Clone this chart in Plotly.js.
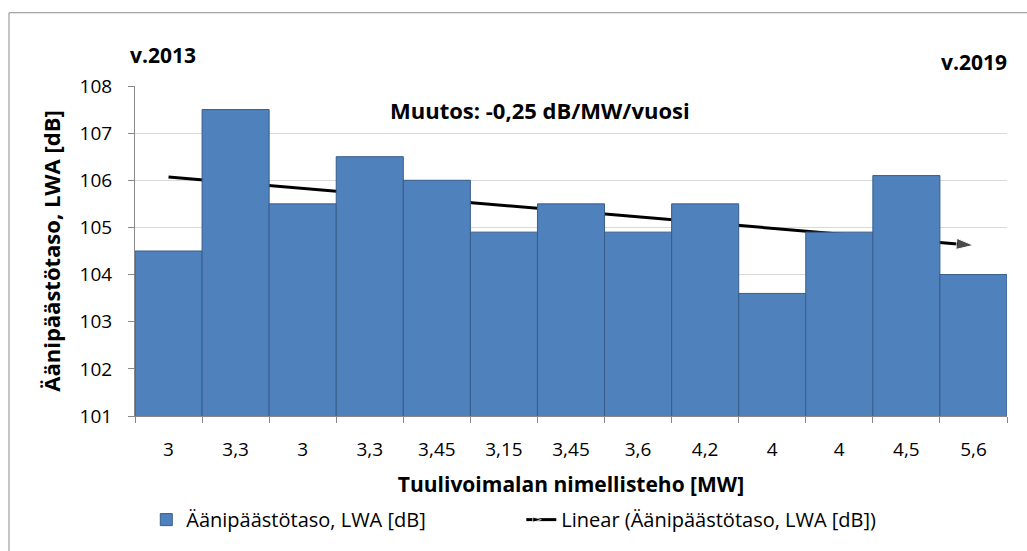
<!DOCTYPE html>
<html>
<head>
<meta charset="utf-8">
<script src="https://cdn.plot.ly/plotly-3.0.1.min.js"></script>
<style>html,body{margin:0;padding:0;background:#fff;}#chart{width:1027px;height:551px;}</style>
</head>
<body>
<div id="chart"></div>
<script>
const categories = ["3","3,3","3","3,3","3,45","3,15","3,45","3,6","4,2","4","4","4,5","5,6"];
const values = [104.5,107.5,105.5,106.5,106.0,104.9,105.5,104.9,105.5,103.6,104.9,106.1,104.0];
const trendX = [0, 12];
const trendY = [106.07, 104.62];
const seriesName = "Äänipäästötaso, LWA [dB]";
const trendName = "Linear (Äänipäästötaso, LWA [dB])";

const idx = categories.map((c, i) => i);
const bounds = categories.map((c, i) => i - 0.5).concat([categories.length - 0.5]);
const FONT = "'Open Sans', sans-serif";

const traces = [
  {
    type: "bar", x: idx, y: values, name: seriesName, xaxis: "x2",
    marker: {color: "#4F81BD", line: {color: "#385D8A", width: 1}},
    hoverinfo: "y"
  },
  {
    type: "scatter", mode: "lines+markers", x: trendX, y: trendY, name: trendName,
    line: {color: "#000", width: 3},
    marker: {symbol: "arrow", angleref: "previous", size: [0, 18], color: "#000"}
  }
];

const layout = {
  width: 1027, height: 551,
  margin: {l: 135, r: 20, t: 86, b: 132},
  paper_bgcolor: "#fff", plot_bgcolor: "#fff",
  font: {family: FONT, size: 19, color: "#000"},
  bargap: 0,
  showlegend: true,
  legend: {orientation: "h", x: 0.443, xanchor: "center", y: -0.314, yanchor: "middle",
           font: {family: FONT, size: 20, color: "#000"}, itemwidth: 30, tracegroupgap: 0,
           entrywidth: 330},
  xaxis: {
    range: [-0.5, 12.5], tickmode: "array", tickvals: bounds, showticklabels: false,
    ticks: "outside", ticklen: 6, tickcolor: "#888", showline: true, linecolor: "#888", linewidth: 1,
    showgrid: false, zeroline: false, fixedrange: true
  },
  xaxis2: {
    overlaying: "x", side: "bottom", range: [-0.5, 12.5], tickmode: "array",
    tickvals: idx, ticktext: categories, ticks: "", showline: false, showgrid: false, zeroline: false,
    tickfont: {size: 19, color: "#000"}, ticklabelstandoff: 20,
    title: {text: "<b>Tuulivoimalan nimellisteho [MW]</b>", font: {size: 21, color: "#000"}, standoff: 16}
  },
  yaxis: {
    range: [101, 108], dtick: 1, tick0: 101, ticks: "outside", ticklen: 6, tickcolor: "#888",
    showline: true, linecolor: "#888", linewidth: 1,
    showgrid: true, gridcolor: "#d9d9d9", gridwidth: 1, zeroline: false,
    tickfont: {size: 19, color: "#000"}, ticklabelstandoff: 12,
    title: {text: "<b>Äänipäästötaso, LWA [dB]</b>", font: {size: 22, color: "#000"}, standoff: 12}
  },
  annotations: [
    {xref: "paper", yref: "paper", x: -0.008, y: 1.095, xanchor: "left", yanchor: "middle",
     text: "<b>v.2013</b>", showarrow: false, font: {size: 21, color: "#000"}},
    {xref: "paper", yref: "paper", x: 1.002, y: 1.072, xanchor: "right", yanchor: "middle",
     text: "<b>v.2019</b>", showarrow: false, font: {size: 21, color: "#000"}},
    {xref: "paper", yref: "paper", x: 0.4645, y: 0.927, xanchor: "center", yanchor: "middle",
     text: "<b>Muutos: -0,25 dB/MW/vuosi</b>", showarrow: false, font: {size: 22, color: "#000"}}
  ],
  shapes: [
    {type: "rect", xref: "paper", yref: "paper", x0: -0.1445, x1: 1.05, y0: -0.6, y1: 1.222,
     line: {color: "#8c8c8c", width: 1}, fillcolor: "rgba(0,0,0,0)", layer: "below"}
  ]
};

Plotly.newPlot("chart", traces, layout, {displayModeBar: false, staticPlot: true});
</script>
</body>
</html>
